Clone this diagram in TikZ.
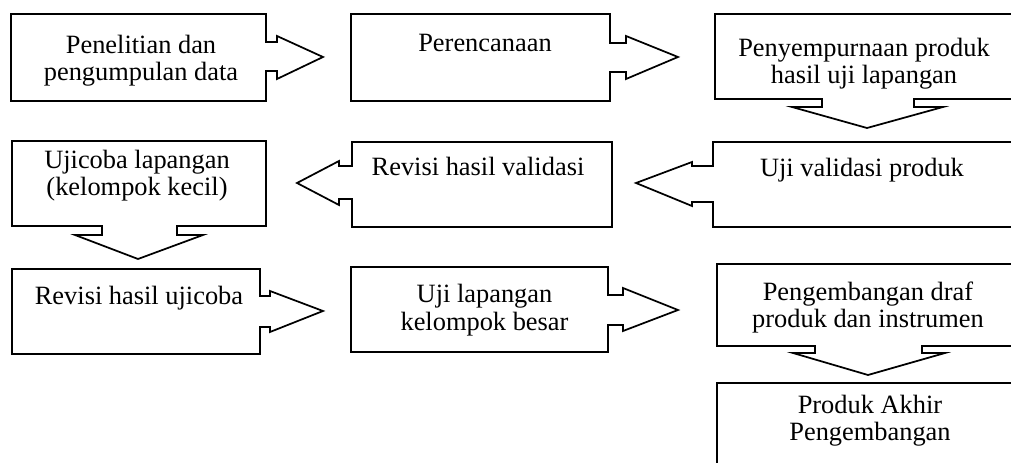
\documentclass[tikz,border=0pt]{standalone}
\usepackage{fontspec}
\setmainfont{Liberation Serif}
\begin{document}
\begin{tikzpicture}[x=0.75pt,y=-0.75pt,
  shp/.style={draw=black, line width=1.3pt, line join=miter, fill=white},
  lbl/.style={anchor=north, inner sep=0pt, align=center, font=\fontsize{19.8}{20.6}\selectfont}]
\useasboundingbox (0,0) rectangle (1011,463);
\begin{scope}
\clip (0,0) rectangle (1011,463);
% Penelitian dan pengumpulan data (right arrow)
\draw[shp] (11,14) -- (266,14) -- (266,42) -- (277,42) -- (277,36) -- (323,57) -- (277,79) -- (277,71) -- (266,71) -- (266,101) -- (11,101) -- cycle;
% Perencanaan (right arrow)
\draw[shp] (351,14) -- (610,14) -- (610,43) -- (626,43) -- (626,36) -- (678,57) -- (626,79) -- (626,72) -- (610,72) -- (610,101) -- (351,101) -- cycle;
% Penyempurnaan produk (down arrow)
\draw[shp] (715,14) -- (1025,14) -- (1025,99) -- (914,99) -- (914,107) -- (943,107) -- (867,128) -- (792,107) -- (822,107) -- (822,99) -- (715,99) -- cycle;
% Uji validasi produk (left arrow)
\draw[shp] (713,142) -- (1025,142) -- (1025,227) -- (713,227) -- (713,202) -- (692,202) -- (692,206) -- (636,183) -- (692,162) -- (692,166) -- (713,166) -- cycle;
% Revisi hasil validasi (left arrow)
\draw[shp] (352,142) -- (612,142) -- (612,227) -- (352,227) -- (352,199) -- (339,199) -- (339,205) -- (297,183) -- (339,161) -- (339,166) -- (352,166) -- cycle;
% Ujicoba lapangan (down arrow)
\draw[shp] (12,141) -- (266,141) -- (266,226) -- (177,226) -- (177,235) -- (203,235) -- (138,259) -- (75,235) -- (102,235) -- (102,226) -- (12,226) -- cycle;
% Revisi hasil ujicoba (right arrow)
\draw[shp] (12,269) -- (260,269) -- (260,296) -- (270,296) -- (270,291) -- (323,311) -- (270,332) -- (270,327) -- (260,327) -- (260,354) -- (12,354) -- cycle;
% Uji lapangan kelompok besar (right arrow)
\draw[shp] (351,267) -- (608,267) -- (608,295) -- (623,295) -- (623,288) -- (678,310) -- (623,331) -- (623,325) -- (608,325) -- (608,352) -- (351,352) -- cycle;
% Pengembangan draf (down arrow)
\draw[shp] (717,264) -- (1025,264) -- (1025,346) -- (922,346) -- (922,353) -- (945,353) -- (868,375) -- (793,353) -- (815,353) -- (815,346) -- (717,346) -- cycle;
% Produk Akhir
\draw[shp] (717,383) -- (1025,383) -- (1025,475) -- (717,475) -- cycle;
\end{scope}
\node[lbl] (n1) at (141,33.8) {\strut Penelitian dan\\pengumpulan data};
\node[lbl] (n2) at (485,32.5) {\strut Perencanaan};
\node[lbl] (n3) at (864,36.8) {\strut Penyempurnaan produk\\hasil uji lapangan};
\node[lbl] (n4) at (862,156.8) {\strut Uji validasi produk};
\node[lbl] (n5) at (478,155.8) {\strut Revisi hasil validasi};
\node[lbl] (n6) at (137,148.8) {\strut Ujicoba lapangan\\(kelompok kecil)};
\node[lbl] (n7) at (139,284.8) {\strut Revisi hasil ujicoba};
\node[lbl] (n8) at (484.5,283.5) {\strut Uji lapangan\\kelompok besar};
\node[lbl] (n9) at (868,280.8) {\strut Pengembangan draf\\produk dan instrumen};
\node[lbl] (n10) at (870,393.8) {\strut Produk Akhir\\Pengembangan};
\end{tikzpicture}
\end{document}
